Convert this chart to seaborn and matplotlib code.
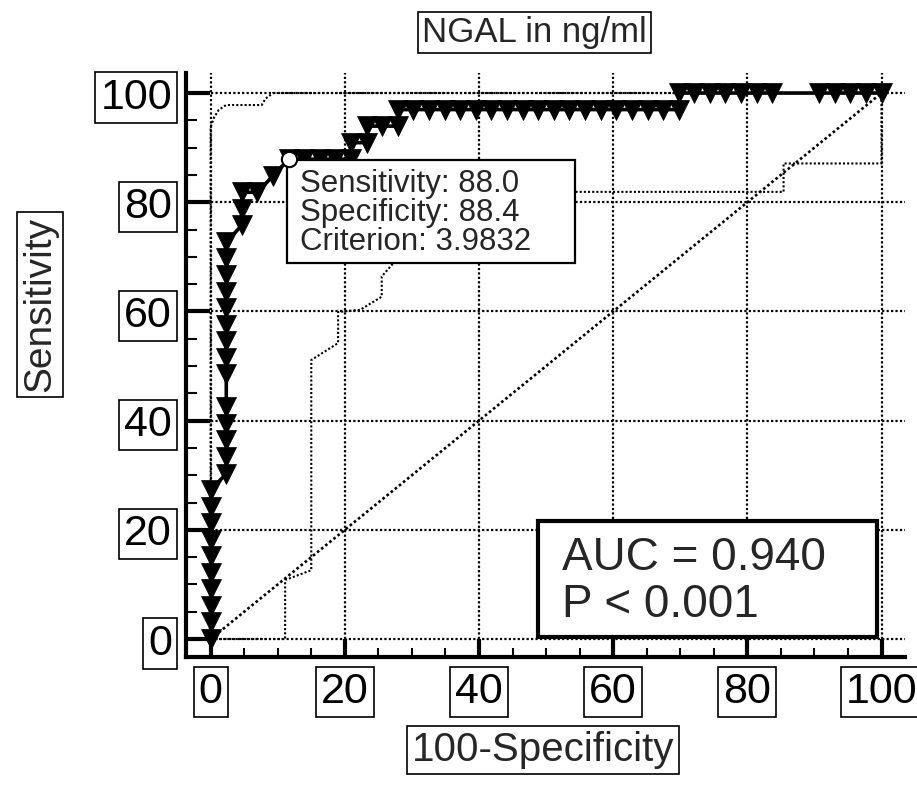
import matplotlib
matplotlib.use("Agg")
import pandas as pd
import matplotlib.pyplot as plt
import seaborn as sns
from matplotlib.patches import Rectangle
from matplotlib.ticker import MultipleLocator

# ROC points: 100-Specificity (x) and Sensitivity (y)
roc_x = [0, 0, 0, 0, 0, 0, 0, 0, 0, 0,
         2.33, 2.33, 2.33, 2.33, 2.33, 2.33, 2.33, 2.33, 2.33, 2.33, 2.33, 2.33, 2.33, 2.33,
         4.65, 4.65, 4.65, 6.98, 9.30,
         11.63, 13.95, 16.28, 18.60, 20.93,
         20.93, 23.26, 23.26, 25.58, 27.91,
         27.91, 30.23, 32.56, 34.88, 37.21, 39.53, 41.86, 44.19, 46.51, 48.84,
         51.16, 53.49, 55.81, 58.14, 60.47, 62.79, 65.12, 67.44, 69.77,
         69.77, 72.09, 74.42, 76.74, 79.07, 81.40, 83.72,
         90.70, 93.02, 95.35, 97.67, 100]
roc_y = [0, 3.03, 6.06, 9.09, 12.12, 15.15, 18.18, 21.21, 24.24, 27.27,
         30.30, 33.33, 36.36, 39.39, 42.42, 48.48, 51.52, 54.55, 57.58, 60.61, 63.64, 66.67, 69.70, 72.73,
         75.76, 78.79, 81.82, 81.82, 84.85,
         87.88, 87.88, 87.88, 87.88, 87.88,
         90.91, 90.91, 93.94, 93.94, 93.94,
         96.97, 96.97, 96.97, 96.97, 96.97, 96.97, 96.97, 96.97, 96.97, 96.97,
         96.97, 96.97, 96.97, 96.97, 96.97, 96.97, 96.97, 96.97, 96.97,
         100, 100, 100, 100, 100, 100, 100,
         100, 100, 100, 100, 100]

# confidence bounds (dotted)
upper_x = [0, 0, 0.5, 1.2, 2.3, 7.6, 8.2, 9.3, 100]
upper_y = [0, 93.8, 95.5, 96.9, 97.8, 97.8, 99.0, 100, 100]
lower_x = [0, 11.1, 11.1, 15.0, 15.0, 19.0, 19.0, 22.3, 25.5, 25.5, 27.2,
           30, 35, 40, 47, 85.4, 85.4, 100, 100]
lower_y = [0, 0, 10.8, 12.6, 51.1, 54.2, 59.9, 60.3, 62.7, 66.4, 68.8,
           72, 75, 78, 81.9, 81.9, 87.1, 87.1, 100]

diag = [0, 100]

opt_x, opt_y = 11.63, 87.88
opt_lines = ["Sensitivity: 88.0", "Specificity: 88.4", "Criterion: 3.9832"]
auc_lines = ["AUC = 0.940", "P < 0.001"]
ticks = [0, 20, 40, 60, 80, 100]

sns.set_style("ticks")
plt.rcParams['font.family'] = ['Liberation Sans', 'DejaVu Sans']

roc = pd.DataFrame({'fpr': roc_x, 'sens': roc_y})

fig = plt.figure(figsize=(9.17, 7.94), dpi=100)
ax = fig.add_axes([0.2028, 0.1725, 0.7841, 0.7355])
ax.set_xlim(-3.68, 103.5)
ax.set_ylim(-3.3, 103.66)

dot = (0, (1, 1))
ax.hlines(ticks, 0, 103.5, colors='black', linestyles=dot, linewidth=1.6, zorder=1)
ax.vlines(ticks, 0, 103.66, colors='black', linestyles=dot, linewidth=1.6, zorder=1)

sns.lineplot(x=diag, y=diag, ax=ax, color='black', linestyle=dot, linewidth=1.9, zorder=2)
ax.plot(upper_x, upper_y, color='black', linestyle=dot, linewidth=1.5, zorder=2)
ax.plot(lower_x, lower_y, color='black', linestyle=dot, linewidth=1.5, zorder=2)

sns.lineplot(data=roc, x='fpr', y='sens', ax=ax, sort=False, estimator=None,
             color='black', linewidth=2.6, marker='v', markersize=14.5,
             mec='black', mew=0.5, zorder=4)

# criterion box anchored at the optimal point
ax.add_patch(Rectangle((opt_x - 0.26, opt_y - 19.0), 42.9, 18.85, fc='white',
                       ec='black', lw=1.6, zorder=5))
for k, line in enumerate(opt_lines):
    ax.text(opt_x + 1.7, opt_y - 6.0 - 5.3 * k, line, fontsize=22.5,
            va='baseline', ha='left', zorder=6)
ax.plot(opt_x, opt_y, 'o', ms=11, mfc='white', mec='black', mew=1.5, zorder=7)

# AUC box
ax.add_patch(Rectangle((48.8, 0.35), 50.6, 21.3, fc='white', ec='black', lw=3, zorder=5))
for k, line in enumerate(auc_lines):
    ax.text(52.3, 12.6 - 8.6 * k, line, fontsize=33, va='baseline', ha='left', zorder=6)

ax.set_xticks(ticks)
ax.set_yticks(ticks)
ax.xaxis.set_minor_locator(MultipleLocator(5))
ax.yaxis.set_minor_locator(MultipleLocator(5))
ax.tick_params(axis='both', which='both', direction='in', colors='black',
               bottom=True, left=True, top=False, right=False)
ax.tick_params(axis='y', which='major', length=17, width=3, pad=10, labelsize=31)
ax.tick_params(axis='y', which='minor', length=8, width=1.5)
ax.tick_params(axis='x', which='major', length=13, width=3, pad=11, labelsize=31)
ax.tick_params(axis='x', which='minor', length=6.5, width=1.5)

box = dict(boxstyle='square,pad=0.12', fc='white', ec='black', lw=1.2)
for lab in ax.get_xticklabels() + ax.get_yticklabels():
    lab.set_bbox(box)

for side in ['top', 'right']:
    ax.spines[side].set_visible(False)
for side in ['left', 'bottom']:
    ax.spines[side].set_linewidth(3)
    ax.spines[side].set_color('black')

ax.set_xlabel('100-Specificity', fontsize=29, bbox=box)
ax.xaxis.set_label_coords(0.4965, -0.159)
ax.xaxis.label.set_va('center')
ax.set_ylabel('Sensitivity', fontsize=28, bbox=box)
ax.yaxis.set_label_coords(-0.203, 0.604)
ax.yaxis.label.set_va('center')

ax.text(0.485, 1.07, 'NGAL in ng/ml', transform=ax.transAxes, ha='center',
        va='center', fontsize=25, bbox=box)

fig.savefig('out.png', dpi=100)
